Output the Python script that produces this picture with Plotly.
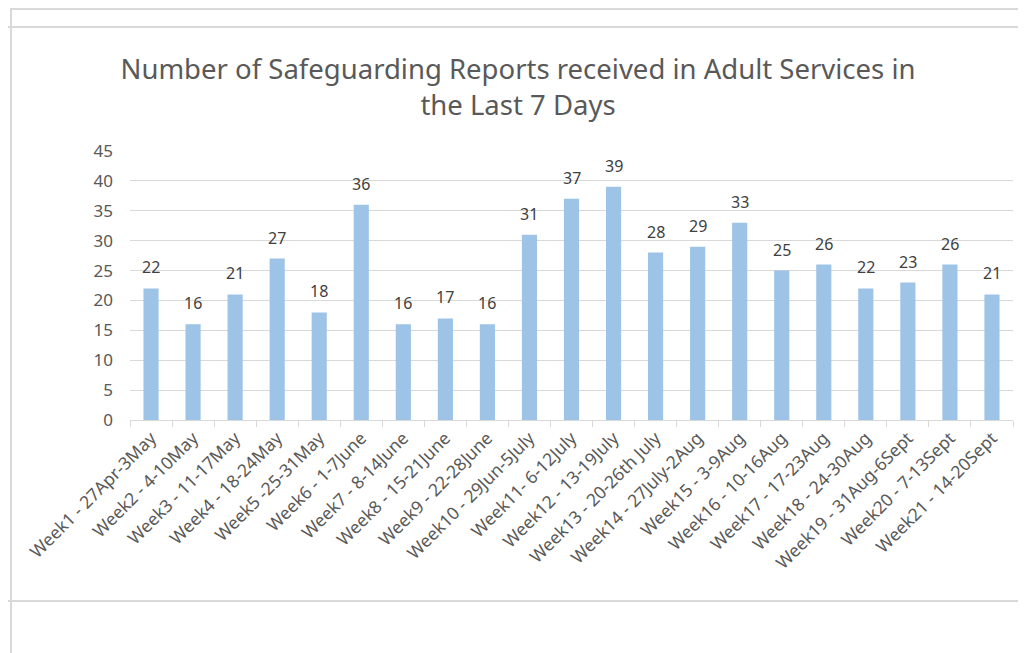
import plotly.graph_objects as go

categories = ["Week1 - 27Apr-3May", "Week2 - 4-10May", "Week3 - 11-17May", "Week4 - 18-24May",
              "Week5 -25-31May", "Week6 - 1-7June", "Week7 - 8-14June", "Week8 - 15-21June",
              "Week9 - 22-28June", "Week10 - 29Jun-5July", "Week11- 6-12July", "Week12 - 13-19July",
              "Week13 - 20-26th July", "Week14 - 27July-2Aug", "Week15 - 3-9Aug", "Week16 - 10-16Aug",
              "Week17 - 17-23Aug", "Week18 - 24-30Aug", "Week19 - 31Aug-6Sept", "Week20 - 7-13Sept",
              "Week21 - 14-20Sept"]
values = [22, 16, 21, 27, 18, 36, 16, 17, 16, 31, 37, 39, 28, 29, 33, 25, 26, 22, 23, 26, 21]
y_ticks = [0, 5, 10, 15, 20, 25, 30, 35, 40, 45]

# page body has an 8px default margin; work in window pixels and shift
OFF = 8
W, H = 1026 - OFF, 653 - OFF
PL, PR, PT, PB = 130, 1013, 151, 420  # plot area in window pixels
L, R, T, B = PL - OFF, (W + OFF) - PR, PT - OFF, (H + OFF) - PB
pw, ph = PR - PL, PB - PT

def px(x):
    return (x - PL) / pw

def py(y):
    return (PB - y) / ph

fig = go.Figure(go.Bar(
    x=categories, y=values,
    marker=dict(color="#9DC3E6", line=dict(width=0)),
    hoverinfo="x+y",
))

for c, v in zip(categories, values):
    fig.add_annotation(x=c, y=v, text=str(v), showarrow=False,
                       yanchor="middle", yshift=21,
                       font=dict(size=16, color="#404040", family="Noto Sans"))

line_style = dict(color="#D9D9D9", width=2)
shapes = [
    dict(type="line", xref="paper", yref="paper", x0=px(10), x1=px(1030), y0=py(9), y1=py(9), line=line_style),
    dict(type="line", xref="paper", yref="paper", x0=px(11), x1=px(11), y0=py(9), y1=py(660), line=line_style),
    dict(type="line", xref="paper", yref="paper", x0=px(1), x1=px(1030), y0=py(27), y1=py(27), line=line_style),
    dict(type="line", xref="paper", yref="paper", x0=px(2), x1=px(2), y0=py(27), y1=py(601), line=dict(color="#D9D9D9", width=1)),
    dict(type="line", xref="paper", yref="paper", x0=px(1), x1=px(1030), y0=py(601), y1=py(601), line=line_style),
]

fig.update_layout(
    width=W, height=H,
    margin=dict(l=L, r=R, t=T, b=B),
    paper_bgcolor="white", plot_bgcolor="white",
    bargap=0.64,
    showlegend=False,
    title=dict(
        text="Number of Safeguarding Reports received in Adult Services in<br>the Last 7 Days",
        x=(518 - OFF) / W, xanchor="center", y=1 - (79 - OFF) / H, yanchor="middle",
        font=dict(size=27.5, color="#595959", family="Noto Sans"),
    ),
    shapes=shapes,
    font=dict(family="Noto Sans", color="#595959"),
    xaxis=dict(
        tickangle=-45, tickfont=dict(size=17.5, color="#595959"),
        ticks="outside", tickson="boundaries", ticklen=6, tickcolor="#D9D9D9",
        showline=True, linecolor="#D9D9D9", linewidth=1, showgrid=False,
    ),
    yaxis=dict(
        range=[0, 45], tickvals=y_ticks, tickfont=dict(size=17, color="#595959"),
        showgrid=True, gridcolor="#D9D9D9", gridwidth=1, zeroline=False,
        ticks="", showline=False, ticklabelstandoff=16,
    ),
)

fig.write_html("out.html")
